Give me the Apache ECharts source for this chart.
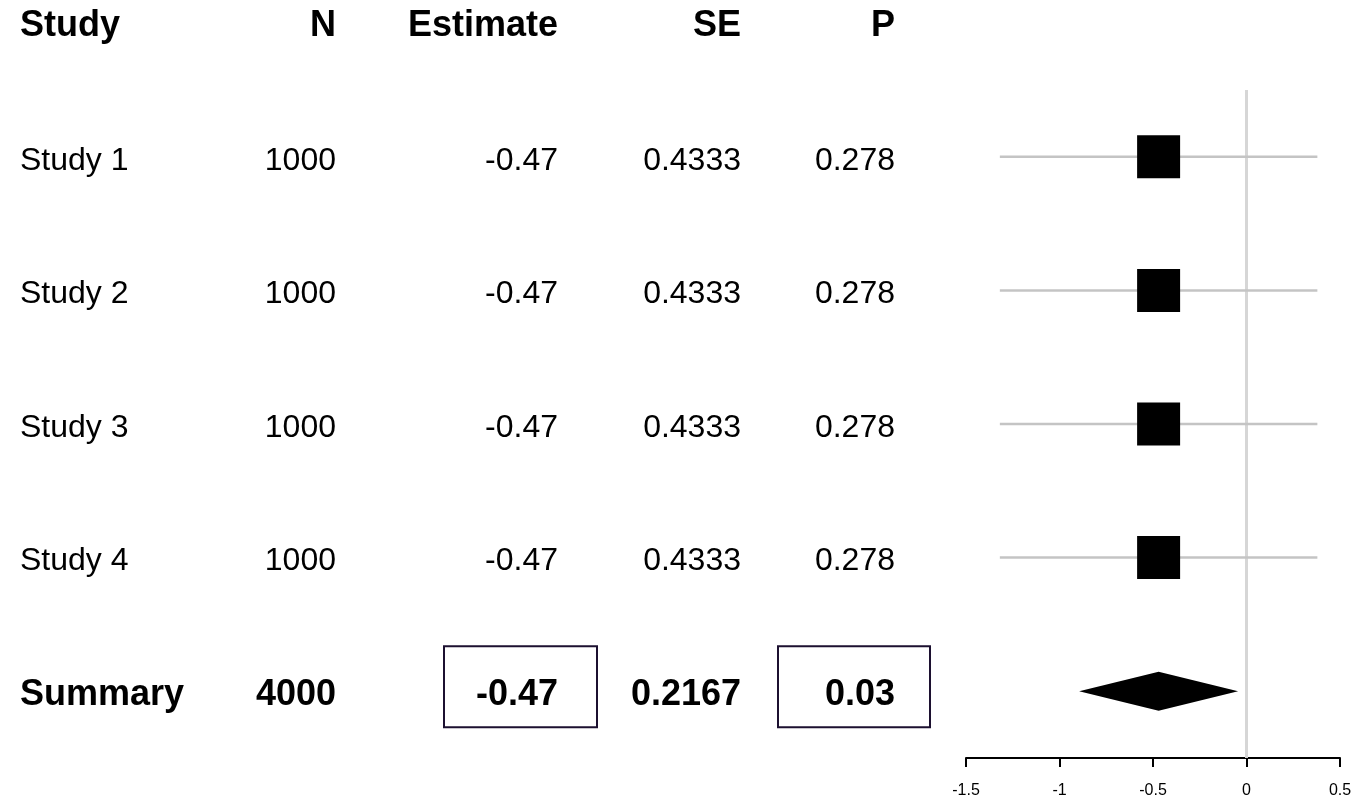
<!DOCTYPE html>
<html>
<head>
<meta charset="utf-8">
<script src="https://cdn.jsdelivr.net/npm/echarts@6/dist/echarts.min.js"></script>
<style>
  html, body { margin: 0; padding: 0; background: #ffffff; }
  #chart { width: 1355px; height: 799px; }
</style>
</head>
<body>
<div id="chart"></div>
<script>
// Forest plot: per-study estimates with 95% CI and a pooled summary diamond
const headers = ['Study', 'N', 'Estimate', 'SE', 'P'];
const studies = ['Study 1', 'Study 2', 'Study 3', 'Study 4', 'Summary'];
const sampleSizes = ['1000', '1000', '1000', '1000', '4000'];
const estimates = [-0.47, -0.47, -0.47, -0.47, -0.47];
const standardErrors = ['0.4333', '0.4333', '0.4333', '0.4333', '0.2167'];
const pValues = ['0.278', '0.278', '0.278', '0.278', '0.03'];
const ciLower = [-1.319, -1.319, -1.319, -1.319, -0.895];
const ciUpper = [0.379, 0.379, 0.379, 0.379, -0.045];
const xTicks = [-1.5, -1, -0.5, 0, 0.5];

const FONT = '"Liberation Sans", Arial, Helvetica, sans-serif';
const summaryIndex = studies.indexOf('Summary');

// table column anchors (pixel x) and alignment; box = frame offsets in the summary row
const columns = [
  { x: 20,  align: 'left'  },
  { x: 336, align: 'right' },
  { x: 558, align: 'right', box: { left: -114, right: 39 } },
  { x: 741, align: 'right' },
  { x: 895, align: 'right', box: { left: -117, right: 35 } }
];

const rows = studies.map((s, i) => [
  s, sampleSizes[i], estimates[i].toFixed(2), standardErrors[i], pValues[i]
]);

const chart = echarts.init(document.getElementById('chart'), null, { renderer: 'canvas' });

function textEl(str, x, y, align, bold, size) {
  return {
    type: 'text',
    x: x,
    y: y,
    style: {
      text: str,
      fill: '#000000',
      align: align,
      verticalAlign: 'middle',
      fontFamily: FONT,
      fontSize: size,
      fontWeight: bold ? 'bold' : 'normal'
    }
  };
}

const option = {
  backgroundColor: '#ffffff',
  animation: false,
  grid: { left: 966, width: 374, top: 90, height: 669, containLabel: false },
  xAxis: {
    type: 'value',
    min: xTicks[0],
    max: xTicks[xTicks.length - 1],
    interval: 0.5,
    splitLine: { show: false },
    axisLine: { show: true, onZero: false, lineStyle: { color: '#000000', width: 2 } },
    axisTick: { show: true, length: 9, lineStyle: { color: '#000000', width: 2 } },
    axisLabel: {
      show: true,
      color: '#000000',
      fontSize: 16,
      fontFamily: FONT,
      margin: 25,
      formatter: v => String(v)
    }
  },
  yAxis: {
    type: 'value',
    min: -0.5,
    max: studies.length - 0.5,
    inverse: true,
    show: false
  },
  series: [
    {
      // reference line at zero effect
      type: 'custom',
      name: 'zero',
      silent: true,
      data: [[0]],
      renderItem: (params, api) => {
        const top = api.coord([0, -0.5]);
        const bottom = api.coord([0, studies.length - 0.5]);
        return {
          type: 'line',
          shape: { x1: top[0], y1: top[1], x2: bottom[0], y2: bottom[1] },
          style: { stroke: '#d6d6d6', lineWidth: 3 }
        };
      },
      z: 1
    },
    {
      // confidence interval whiskers and study squares
      type: 'custom',
      name: 'studies',
      silent: true,
      data: estimates.slice(0, summaryIndex).map((e, i) => [e, i, ciLower[i], ciUpper[i]]),
      renderItem: (params, api) => {
        const row = api.value(1);
        const c = api.coord([api.value(0), row]);
        const lo = api.coord([api.value(2), row]);
        const hi = api.coord([api.value(3), row]);
        const size = 43;
        return {
          type: 'group',
          children: [
            {
              type: 'line',
              shape: { x1: lo[0], y1: lo[1], x2: hi[0], y2: hi[1] },
              style: { stroke: '#c4c4c4', lineWidth: 2.5 }
            },
            {
              type: 'rect',
              shape: { x: c[0] - size / 2, y: c[1] - size / 2, width: size, height: size },
              style: { fill: '#000000' }
            }
          ]
        };
      },
      z: 2
    },
    {
      // pooled estimate diamond
      type: 'custom',
      name: 'summary',
      silent: true,
      data: [[estimates[summaryIndex], summaryIndex, ciLower[summaryIndex], ciUpper[summaryIndex]]],
      renderItem: (params, api) => {
        const row = api.value(1);
        const c = api.coord([api.value(0), row]);
        const lo = api.coord([api.value(2), row]);
        const hi = api.coord([api.value(3), row]);
        const h = 19.5;
        return {
          type: 'polygon',
          shape: { points: [[lo[0], c[1]], [c[0], c[1] - h], [hi[0], c[1]], [c[0], c[1] + h]] },
          style: { fill: '#000000' }
        };
      },
      z: 3
    },
    {
      // text table on the left, aligned to the plot rows
      type: 'custom',
      name: 'table',
      silent: true,
      clip: false,
      data: rows.map((r, i) => [0, i]),
      renderItem: (params, api) => {
        const i = params.dataIndex;
        const y = api.coord([0, i])[1];
        const bold = i === summaryIndex;
        const size = bold ? 36 : 32;
        const children = [];
        rows[i].forEach((cell, k) => {
          children.push(textEl(cell, columns[k].x, y + 4, columns[k].align, bold, size));
          if (bold && columns[k].box) {
            const b = columns[k].box;
            children.push({
              type: 'rect',
              shape: { x: columns[k].x + b.left, y: y - 45, width: b.right - b.left, height: 81 },
              style: { fill: null, stroke: '#1c1030', lineWidth: 2 }
            });
          }
        });
        return { type: 'group', children };
      },
      z: 4
    },
    {
      // column headers
      type: 'custom',
      name: 'header',
      silent: true,
      clip: false,
      data: [[0, -1]],
      renderItem: (params, api) => {
        const y = api.coord([0, -1])[1];
        return {
          type: 'group',
          children: headers.map((h, k) => textEl(h, columns[k].x, y + 3, columns[k].align, true, 36))
        };
      },
      z: 4
    }
  ]
};

chart.setOption(option);
</script>
</body>
</html>
